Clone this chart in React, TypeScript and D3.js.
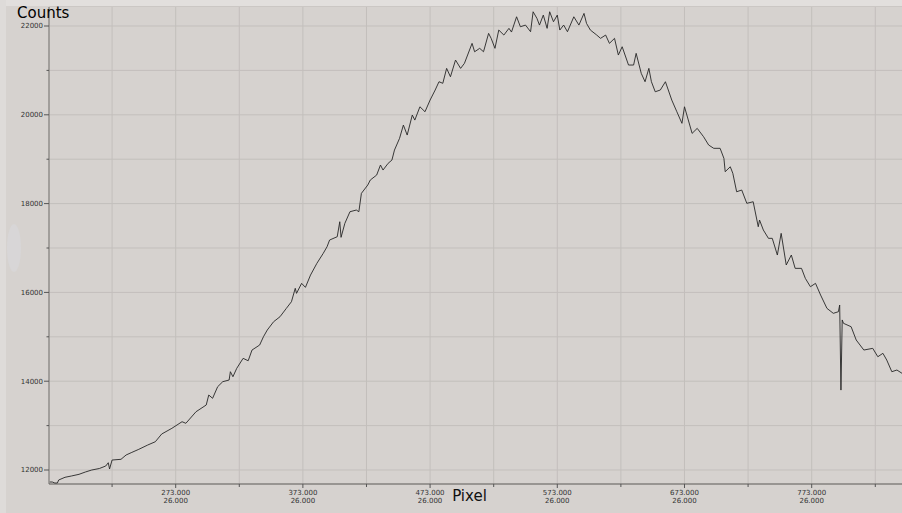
import React from "react";
import * as d3 from "d3";

// Detector pixel index and the counts recorded at it
const pixels = [
  174, 176, 178, 180, 181, 186, 191, 197, 202, 207, 213, 218, 220, 221, 223, 230, 234, 238, 244, 251,
  257, 262, 270, 278, 281, 289, 297, 299, 302, 306, 310, 315, 316, 318, 321, 326, 330, 333, 339, 342,
  345, 350, 355, 360, 364, 367, 368, 372, 375, 379, 384, 389, 392, 394, 400, 402, 403, 406, 410, 415,
  417, 419, 421, 424, 426, 431, 434, 436, 440, 443, 445, 449, 452, 455, 459, 461, 465, 469, 473, 477,
  480, 483, 486, 489, 493, 497, 500, 506, 508, 512, 515, 519, 521, 524, 527, 531, 535, 537, 541, 544,
  548, 552, 554, 557, 559, 562, 565, 567, 570, 573, 575, 578, 581, 586, 590, 594, 596, 599, 604, 607,
  611, 614, 618, 621, 624, 629, 633, 635, 639, 642, 645, 647, 650, 654, 658, 663, 667, 671, 673, 679,
  683, 688, 692, 696, 701, 704, 705, 709, 711, 714, 718, 722, 727, 731, 732, 735, 739, 742, 746, 749,
  753, 757, 760, 765, 768, 772, 776, 780, 785, 790, 794, 795, 796, 797, 798, 804, 808, 814, 821, 825,
  829, 832, 836, 840, 844,
];

const counts = [
  11730, 11730, 11707, 11707, 11775, 11836, 11865, 11903, 11955, 12000, 12034, 12090, 12164, 12023, 12225, 12241, 12338, 12390, 12466, 12563,
  12637, 12811, 12939, 13088, 13052, 13313, 13464, 13689, 13615, 13876, 13989, 14027, 14214, 14101, 14290, 14515, 14461, 14702, 14815, 15002,
  15153, 15340, 15452, 15641, 15790, 16092, 15979, 16204, 16114, 16391, 16655, 16880, 17029, 17180, 17254, 17592, 17240, 17556, 17817, 17855,
  17817, 18231, 18306, 18418, 18531, 18643, 18869, 18756, 18907, 18981, 19206, 19470, 19769, 19544, 19995, 19881, 20181, 20069, 20332, 20558,
  20745, 20709, 21046, 20857, 21233, 21046, 21159, 21609, 21420, 21497, 21420, 21834, 21722, 21497, 21909, 21796, 21947, 21864, 22208, 21983,
  22021, 21871, 22321, 22172, 22021, 22246, 21947, 22321, 22096, 22246, 21909, 22021, 21871, 22208, 22021, 22284, 22058, 21909, 21796, 21722,
  21796, 21609, 21722, 21346, 21533, 21121, 21121, 21384, 20934, 20745, 21046, 20745, 20519, 20558, 20745, 20332, 20069, 19808, 20181, 19582,
  19695, 19506, 19319, 19245, 19245, 19019, 18718, 18830, 18682, 18267, 18306, 18006, 18042, 17479, 17630, 17405, 17218, 17218, 16842, 17330,
  16617, 16842, 16542, 16542, 16317, 16128, 16204, 15941, 15641, 15529, 15565, 15716, 13800, 15380, 15304, 15227, 14928, 14702, 14740, 14551,
  14628, 14477, 14214, 14252, 14178,
];

// Axis ticks
const xMajorTicks = [273, 373, 473, 573, 673, 773];
const xMinorTicks = [223, 323, 423, 523, 623, 723, 823];
const xSubLabel = "26.000";
const yMajorTicks = [12000, 14000, 16000, 18000, 20000, 22000];
const yMinorTicks = [13000, 15000, 17000, 19000, 21000];

const W = 902;
const H = 513;
const left = 49;
const right = 902;
const top = 7;
const bottom = 484;

export default function App() {
  const x = d3.scaleLinear().domain([173.4, 844]).range([left, right]);
  const y = d3.scaleLinear().domain([11685, 22428]).range([bottom, top]);

  const points: [number, number][] = pixels.map((p, i) => [p, counts[i]]);
  const path = d3
    .line<[number, number]>()
    .x((d) => x(d[0]))
    .y((d) => y(d[1]))(points) as string;

  const gridColor = "#c3bfbc";
  const font = "DejaVu Sans, sans-serif";

  return (
    <svg
      width={W}
      height={H}
      style={{ position: "absolute", left: 0, top: 0, display: "block" }}
    >
      <rect x={0} y={0} width={W} height={H} fill="#d6d2cf" />
      {/* lighter frame strips */}
      <rect x={0} y={0} width={W} height={6} fill="#e2dfdd" />
      <rect x={0} y={0} width={6} height={H} fill="#dedbd9" />
      <ellipse cx={14} cy={248} rx={7} ry={24} fill="#d9d9dc" opacity={0.6} />
      <line x1={left} x2={right} y1={6.5} y2={6.5} stroke="#cbc7c4" strokeWidth={1} />

      {/* grid */}
      {[...xMajorTicks, ...xMinorTicks].map((t) => (
        <line key={"gx" + t} x1={x(t)} x2={x(t)} y1={top} y2={bottom} stroke={gridColor} strokeWidth={1} />
      ))}
      {[...yMajorTicks, ...yMinorTicks].map((t) => (
        <line key={"gy" + t} x1={left} x2={right} y1={y(t)} y2={y(t)} stroke={gridColor} strokeWidth={1} />
      ))}

      {/* axes */}
      <line x1={left} x2={left} y1={top} y2={bottom} stroke="#8f8c8a" strokeWidth={1.5} />
      <line x1={left} x2={right} y1={bottom} y2={bottom} stroke="#5a5856" strokeWidth={1.2} />

      {/* y ticks */}
      {yMajorTicks.map((t) => (
        <g key={"yt" + t}>
          <line x1={left - 5} x2={left} y1={y(t)} y2={y(t)} stroke="#555" strokeWidth={1} />
          <text x={left - 6} y={y(t)} dy="0.35em" textAnchor="end" fontSize={7} fontFamily={font} fill="#333">
            {t}
          </text>
        </g>
      ))}
      {yMinorTicks.map((t) => (
        <line key={"ym" + t} x1={left - 2.5} x2={left} y1={y(t)} y2={y(t)} stroke="#555" strokeWidth={1} />
      ))}

      {/* x ticks */}
      {xMajorTicks.map((t) => (
        <g key={"xt" + t}>
          <line x1={x(t)} x2={x(t)} y1={bottom} y2={bottom + 4} stroke="#555" strokeWidth={1} />
          <text x={x(t)} y={495} textAnchor="middle" fontSize={7} fontFamily={font} fill="#333">
            {t.toFixed(3)}
          </text>
          <text x={x(t)} y={502.5} textAnchor="middle" fontSize={7} fontFamily={font} fill="#333">
            {xSubLabel}
          </text>
        </g>
      ))}
      {xMinorTicks.map((t) => (
        <line key={"xm" + t} x1={x(t)} x2={x(t)} y1={bottom} y2={bottom + 3} stroke="#555" strokeWidth={1} />
      ))}

      {/* spectrum */}
      <path d={path} fill="none" stroke="#262626" strokeWidth={0.9} strokeLinejoin="round" />

      {/* axis titles */}
      <text x={17} y={18} fontSize={15} fontFamily={font} fill="#000">
        Counts
      </text>
      <text x={469.5} y={501} textAnchor="middle" fontSize={15} fontFamily={font} fill="#111">
        Pixel
      </text>
    </svg>
  );
}
